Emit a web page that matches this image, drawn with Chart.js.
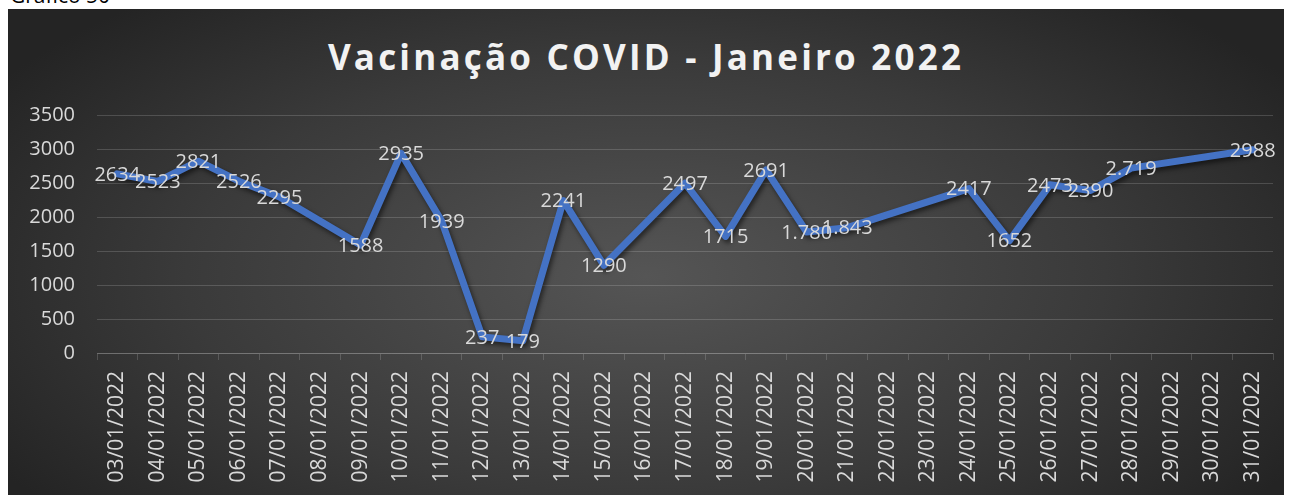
<!DOCTYPE html>
<html>
<head>
<meta charset="utf-8">
<script src="https://cdn.jsdelivr.net/npm/chart.js@4.4.1/dist/chart.umd.min.js"></script>
<style>
  body { margin: 0; background: #fff; width: 1290px; height: 495px; overflow: hidden; position: relative; font-family: "Open Sans", sans-serif; }
  #legenda { position: absolute; left: 10px; top: -15px; font-size: 21px; line-height: 20px; color: #000; }
  #caixa {
    position: absolute; left: 8px; top: 9px; width: 1276px; height: 486px;
    background: radial-gradient(ellipse 60% 75% at 50% 55%, #555555 0%, #3a3a3a 60%, #242424 100%);
  }
  #titulo {
    position: absolute; left: 0; width: 100%; top: 27px; text-align: center;
    font-size: 35px; font-weight: bold; letter-spacing: 3.2px; color: #f2f2f2; line-height: 42px;
  }
  canvas { position: absolute; left: 0; top: 0; }
</style>
</head>
<body>
<div id="legenda">Gráfico 50</div>
<div id="caixa">
  <div id="titulo">Vacinação COVID - Janeiro 2022</div>
  <canvas id="grafico" width="1276" height="486"></canvas>
</div>
<script>
// dias do mês e doses aplicadas (null = sem registro)
const dias = [
  "03/01/2022", "04/01/2022", "05/01/2022", "06/01/2022", "07/01/2022",
  "08/01/2022", "09/01/2022", "10/01/2022", "11/01/2022", "12/01/2022",
  "13/01/2022", "14/01/2022", "15/01/2022", "16/01/2022", "17/01/2022",
  "18/01/2022", "19/01/2022", "20/01/2022", "21/01/2022", "22/01/2022",
  "23/01/2022", "24/01/2022", "25/01/2022", "26/01/2022", "27/01/2022",
  "28/01/2022", "29/01/2022", "30/01/2022", "31/01/2022"
];
const doses = [
  2634, 2523, 2821, 2526, 2295,
  null, 1588, 2935, 1939, 237,
  179, 2241, 1290, null, 2497,
  1715, 2691, 1780, 1843, null,
  null, 2417, 1652, 2473, 2390,
  2719, null, null, 2988
];
// dias cujo rótulo aparece com separador de milhar
const comPonto = ["20/01/2022", "21/01/2022", "28/01/2022"];
const yTicks = [0, 500, 1000, 1500, 2000, 2500, 3000, 3500];

const corTexto = "#d9d9d9";
const corGrade = "rgba(255,255,255,0.16)";

function formata(v, i) {
  if (comPonto.includes(dias[i])) return v.toLocaleString("pt-BR");
  return String(v);
}

// sombra da linha
const sombra = {
  id: "sombra",
  beforeDatasetDraw(chart) {
    const ctx = chart.ctx;
    ctx.save();
    ctx.shadowColor = "rgba(0,0,0,0.55)";
    ctx.shadowBlur = 5;
    ctx.shadowOffsetX = 2;
    ctx.shadowOffsetY = 3;
  },
  afterDatasetDraw(chart) {
    chart.ctx.restore();
  }
};

// valores escritos sobre cada ponto
const rotulos = {
  id: "rotulos",
  afterDatasetsDraw(chart) {
    const ctx = chart.ctx;
    const meta = chart.getDatasetMeta(0);
    ctx.save();
    ctx.font = '20px "Open Sans", sans-serif';
    ctx.fillStyle = corTexto;
    ctx.textAlign = "center";
    ctx.textBaseline = "middle";
    meta.data.forEach((pt, i) => {
      const v = doses[i];
      if (v === null) return;
      ctx.fillText(formata(v, i), pt.x, pt.y + 1);
    });
    ctx.restore();
  }
};

new Chart(document.getElementById("grafico"), {
  type: "line",
  data: {
    labels: dias,
    datasets: [{
      data: doses,
      borderColor: "#4472C4",
      borderWidth: 7,
      borderJoinStyle: "round",
      borderCapStyle: "round",
      pointRadius: 0,
      spanGaps: true,
      tension: 0
    }]
  },
  options: {
    responsive: false,
    animation: false,
    layout: { padding: { top: 106, right: 11, left: 0, bottom: 0 } },
    plugins: {
      legend: { display: false },
      tooltip: { enabled: false }
    },
    scales: {
      x: {
        offset: true,
        grid: {
          offset: true,
          drawOnChartArea: false,
          drawTicks: true,
          tickLength: 7,
          color: corGrade
        },
        border: { color: corGrade, width: 1 },
        ticks: {
          autoSkip: false,
          maxRotation: 90,
          minRotation: 90,
          padding: 11,
          color: corTexto,
          font: { family: "Open Sans", size: 21 }
        },
        afterFit(s) {
          s.height = 142;
          s.paddingLeft = 0;
          s.paddingRight = 0;
        }
      },
      y: {
        min: 0,
        max: 3500,
        afterBuildTicks(s) { s.ticks = yTicks.map(v => ({ value: v })); },
        grid: { color: corGrade, drawTicks: false },
        border: { display: false },
        ticks: {
          padding: 22,
          color: corTexto,
          font: { family: "Open Sans", size: 20 },
          callback: v => String(v)
        },
        afterFit(s) { s.width = 89; }
      }
    }
  },
  plugins: [sombra, rotulos]
});
</script>
</body>
</html>
